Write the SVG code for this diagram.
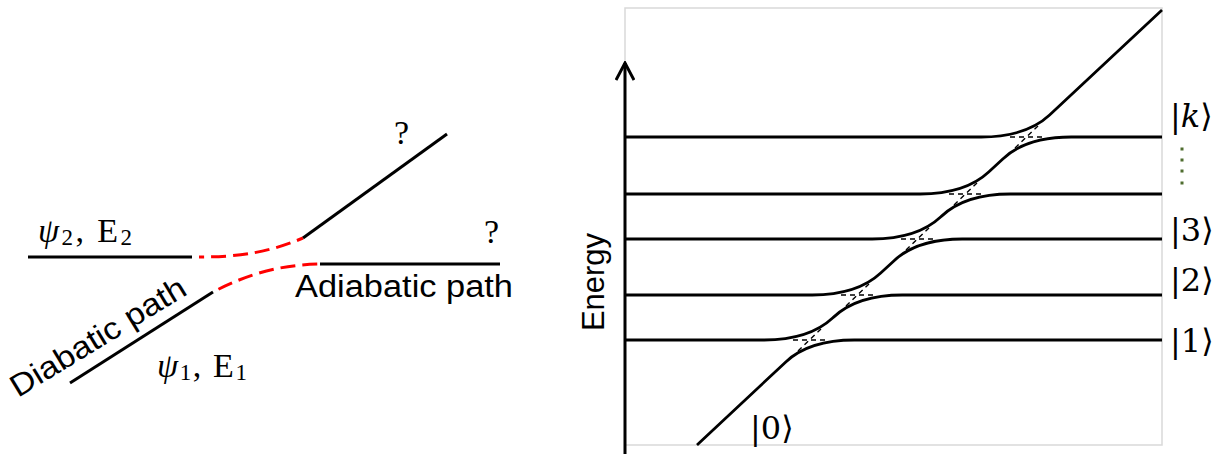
<svg xmlns="http://www.w3.org/2000/svg" width="1219" height="454" viewBox="0 0 1219 454">
<style>
.blk{stroke:#000;stroke-width:3;fill:none;stroke-linecap:butt}
.red{stroke:#ff0000;stroke-width:3;fill:none;stroke-dasharray:15 7}
.lvl{stroke:#000;stroke-width:2.8;fill:none;stroke-linejoin:round}
.dsh{stroke:#000;stroke-width:1.4;fill:none;stroke-dasharray:5 4}
.sans{font-family:"Liberation Sans",Arial,sans-serif;fill:#000}
.ser{font-family:"Liberation Serif","DejaVu Serif",serif;fill:#000}
.ket{font-family:"DejaVu Serif","Liberation Serif",serif;fill:#000;font-size:32px}
</style>
<defs>
<marker id="arr" viewBox="0 0 20 20" refX="18" refY="10" markerWidth="20" markerHeight="20" markerUnits="userSpaceOnUse" orient="auto">
<path d="M1 1 L18 10 L1 19" fill="none" stroke="#000" stroke-width="3"/>
</marker>
</defs>
<rect width="1219" height="454" fill="#fff"/>

<!-- Left panel -->
<g id="left-panel">
  <g id="connectors-left">
    <line class="blk" x1="28" y1="257" x2="192" y2="257"/>
    <path class="red" d="M199 257 C240 257 270 252 303 238" stroke-dashoffset="10"/>
    <line class="blk" x1="303" y1="238" x2="447" y2="134"/>
    <line class="blk" x1="70" y1="383" x2="213" y2="292"/>
    <path class="red" d="M213 292 C250 273 280 265 320 264" stroke-dashoffset="16"/>
    <line class="blk" x1="320" y1="264" x2="500" y2="264"/>
  </g>
  <g id="label-psi2">
    <text class="ser" x="38" y="242" font-size="34" textLength="94"><tspan font-style="italic">ψ</tspan><tspan font-size="23" dy="3">2</tspan><tspan dy="-3">, E</tspan><tspan font-size="23" dy="3">2</tspan></text>
  </g>
  <g id="label-psi1">
    <text class="ser" x="157" y="377" font-size="34" textLength="90"><tspan font-style="italic">ψ</tspan><tspan font-size="23" dy="3">1</tspan><tspan dy="-3">, E</tspan><tspan font-size="23" dy="3">1</tspan></text>
  </g>
  <text class="ser" x="394" y="144" font-size="34">?</text>
  <text class="ser" x="484" y="243" font-size="34">?</text>
  <text class="sans" x="295" y="297" font-size="31" textLength="218" lengthAdjust="spacingAndGlyphs">Adiabatic path</text>
  <text class="sans" x="0" y="0" font-size="31" textLength="200" lengthAdjust="spacingAndGlyphs" transform="translate(18 398) rotate(-31.4)">Diabatic path</text>
</g>

<!-- Right panel -->
<g id="right-panel">
  <rect x="625" y="8" width="537" height="437" fill="none" stroke="#d9d9d9" stroke-width="1.5"/>
  <g id="axis">
    <line x1="625" y1="454" x2="625" y2="63" stroke="#000" stroke-width="3" marker-end="url(#arr)"/>
    <text class="sans" font-size="31" text-anchor="middle" transform="translate(604 282) rotate(-90)">Energy</text>
  </g>
  <g id="connectors">
    <path class="lvl" d="M697 445 L785.8 361.9 Q809.2 340 854.2 340 L1162 340"/>
    <path class="lvl" d="M625 340 L764.2 340 Q809.2 340 832.6 318.1 L833.9 316.9 Q857.3 295 902.3 295 L1162 295"/>
    <path class="lvl" d="M625 295 L812.3 295 Q857.3 295 880.7 273.1 L893.8 260.9 Q917.2 239 962.2 239 L1162 239"/>
    <path class="lvl" d="M625 239 L872.2 239 Q917.2 239 940.6 217.1 L941.9 215.9 Q965.3 194 1010.3 194 L1162 194"/>
    <path class="lvl" d="M625 194 L920.3 194 Q965.3 194 988.7 172.1 L1002.8 158.9 Q1026.2 137 1071.2 137 L1162 137"/>
    <path class="lvl" d="M625 137 L981.2 137 Q1026.2 137 1049.6 115.1 L1162 10"/>
    <g id="diabatic-marks">
      <line class="dsh" x1="793" y1="340" x2="826" y2="340"/>
      <line class="dsh" x1="798" y1="351" x2="821" y2="329"/>
      <line class="dsh" x1="841" y1="295" x2="874" y2="295"/>
      <line class="dsh" x1="846" y1="306" x2="869" y2="284"/>
      <line class="dsh" x1="901" y1="239" x2="934" y2="239"/>
      <line class="dsh" x1="906" y1="250" x2="929" y2="228"/>
      <line class="dsh" x1="949" y1="194" x2="982" y2="194"/>
      <line class="dsh" x1="954" y1="205" x2="977" y2="183"/>
      <line class="dsh" x1="1010" y1="137" x2="1043" y2="137"/>
      <line class="dsh" x1="1015" y1="148" x2="1038" y2="126"/>
    </g>
  </g>
  <g id="ket-k"><text class="ket" x="1170" y="127">|<tspan font-style="italic">k</tspan>⟩</text></g>
  <g id="dots" fill="#4f6d2f">
    <rect x="1180.5" y="147.5" width="3" height="3"/>
    <rect x="1180.5" y="158.5" width="3" height="3"/>
    <rect x="1180.5" y="169.5" width="3" height="3"/>
    <rect x="1180.5" y="181.5" width="3" height="3"/>
  </g>
  <g id="ket-3"><text class="ket" x="1170" y="241">|3⟩</text></g>
  <g id="ket-2"><text class="ket" x="1170" y="291">|2⟩</text></g>
  <g id="ket-1"><text class="ket" x="1170" y="352">|1⟩</text></g>
  <g id="ket-0"><text class="ket" x="750" y="439">|0⟩</text></g>
</g>
</svg>
